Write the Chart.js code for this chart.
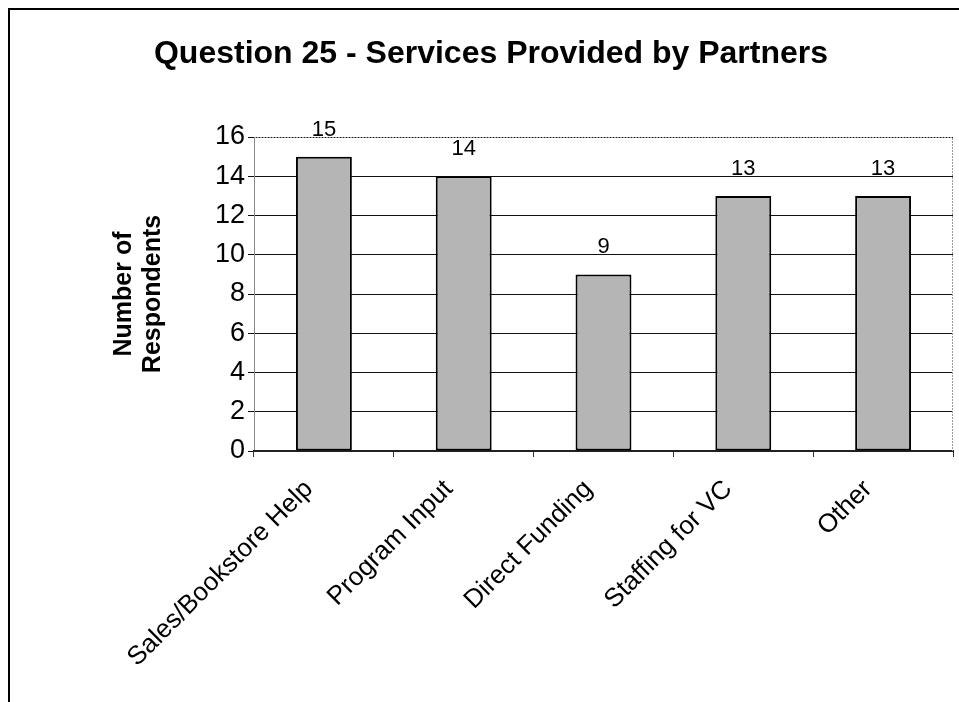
<!DOCTYPE html>
<html>
<head>
<meta charset="utf-8">
<script src="https://cdn.jsdelivr.net/npm/chart.js@4/dist/chart.umd.min.js"></script>
<style>
  html, body { margin: 0; padding: 0; background: #fff; }
  #wrap { position: relative; width: 959px; height: 702px; overflow: hidden; }
  #frame { position: absolute; left: 8px; top: 8px; width: 1000px; height: 800px;
           border-top: 2px solid #000; border-left: 2px solid #000; pointer-events: none; }
</style>
</head>
<body>
<div id="wrap">
  <canvas id="myChart" width="959" height="702"></canvas>
  <div id="frame"></div>
</div>
<script>
const categories = ['Sales/Bookstore Help', 'Program Input', 'Direct Funding', 'Staffing for VC', 'Other'];
const respondents = [15, 14, 9, 13, 13];
const yTicks = [0, 2, 4, 6, 8, 10, 12, 14, 16];

const fontFamily = '"Liberation Sans", Arial, sans-serif';
Chart.defaults.color = '#000';
Chart.defaults.font.family = fontFamily;

// value labels above each bar
const valueLabels = {
  id: 'valueLabels',
  afterDatasetsDraw(chart) {
    const ctx = chart.ctx;
    const meta = chart.getDatasetMeta(0);
    ctx.save();
    ctx.font = '22px ' + fontFamily;
    ctx.fillStyle = '#000';
    ctx.textAlign = 'center';
    ctx.textBaseline = 'alphabetic';
    meta.data.forEach((bar, i) => {
      ctx.fillText(String(chart.data.datasets[0].data[i]), bar.x, bar.y - 21);
    });
    ctx.restore();
  }
};

// light border around the plot area (top + right)
const plotBorder = {
  id: 'plotBorder',
  beforeDatasetsDraw(chart) {
    const {ctx, chartArea: a} = chart;
    ctx.save();
    ctx.strokeStyle = '#999';
    ctx.lineWidth = 1;
    ctx.setLineDash([2, 1]);
    ctx.beginPath();
    ctx.moveTo(a.left, a.top + 0.5);
    ctx.lineTo(a.right - 0.5, a.top + 0.5);
    ctx.lineTo(a.right - 0.5, a.bottom);
    ctx.stroke();
    ctx.restore();
  }
};

const ctx = document.getElementById('myChart').getContext('2d');
new Chart(ctx, {
  type: 'bar',
  data: {
    labels: categories,
    datasets: [{
      label: 'Number of Respondents',
      data: respondents,
      backgroundColor: '#b5b5b5',
      borderColor: '#000',
      borderWidth: 2,
      borderSkipped: false,
      categoryPercentage: 1.0,
      barPercentage: 0.4
    }]
  },
  options: {
    responsive: false,
    animation: false,
    layout: { padding: { left: 29, right: 6, top: 0, bottom: 0 } },
    plugins: {
      legend: { display: false },
      tooltip: { enabled: false },
      title: {
        display: true,
        text: 'Question 25 - Services Provided by Partners',
        color: '#000',
        font: { size: 32, weight: 'bold', family: fontFamily },
        padding: { top: 35, bottom: 63.6 }
      }
    },
    scales: {
      y: {
        min: 0,
        max: 16,
        afterBuildTicks: (scale) => { scale.ticks = yTicks.map(v => ({ value: v })); },
        afterFit: (scale) => { scale.width = 254 - 29; },
        ticks: { font: { size: 27 }, padding: 3, color: '#000' },
        grid: { color: '#111', lineWidth: 1, tickLength: 6 },
        border: { color: '#888', width: 1 },
        title: {
          display: true,
          text: ['Number of', 'Respondents'],
          font: { size: 25, weight: 'bold', lineHeight: 1.16 },
          color: '#000',
          padding: { top: 81, bottom: 0 }
        }
      },
      x: {
        afterFit: (scale) => { scale.height = 702 - 451; },
        ticks: { font: { size: 26 }, maxRotation: 45, minRotation: 45, autoSkip: false,
                 color: '#000', padding: 17, labelOffset: -15 },
        grid: { drawOnChartArea: false, drawTicks: true, tickLength: 6, offset: true, color: '#333' },
        border: { color: '#222', width: 2 }
      }
    }
  },
  plugins: [plotBorder, valueLabels]
});
</script>
</body>
</html>
